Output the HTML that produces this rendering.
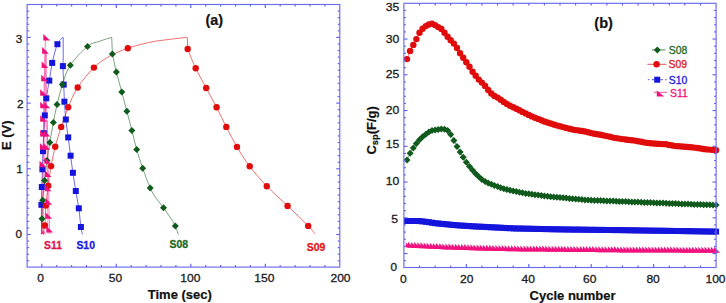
<!DOCTYPE html>
<html><head><meta charset="utf-8"><title>Figure</title>
<style>
html,body{margin:0;padding:0;background:#fff;}
body{width:726px;height:303px;overflow:hidden;}
svg{display:block;}
svg text{font-family:"Liberation Sans",sans-serif;}
</style></head><body>
<svg width="726" height="303" viewBox="0 0 726 303">
<rect width="726" height="303" fill="#ffffff"/>
<path d="M41.5,234.0 C41.5,229.1 41.4,212.6 41.4,204.8 C41.4,197.0 41.6,192.9 41.8,187.0 C42.0,181.1 42.2,175.3 42.4,169.3 C42.6,163.3 42.8,157.2 43.0,151.2 C43.2,145.2 43.5,139.2 43.8,133.2 C44.1,127.2 44.4,121.2 44.8,115.4 C45.2,109.6 45.5,104.1 46.3,98.3 C47.0,92.5 48.3,86.5 49.3,80.6 C50.3,74.7 50.9,69.0 52.2,62.9 C53.6,56.8 55.6,48.5 57.4,44.2 C59.2,39.9 62.1,38.4 63.0,37.3" fill="none" stroke="#1414dc" stroke-width="0.9" stroke-opacity="0.7" stroke-linejoin="round"/>
<polyline points="63.2,37.3 63.2,60.0" fill="none" stroke="#1414dc" stroke-width="0.9" stroke-opacity="0.7" stroke-linejoin="round"/>
<path d="M63.2,60.0 C63.2,61.0 62.8,62.0 62.9,66.1 C63.0,70.2 63.5,78.7 63.7,84.6 C64.0,90.5 64.1,95.9 64.4,101.7 C64.8,107.5 65.2,113.5 65.8,119.5 C66.4,125.5 67.4,131.4 68.2,137.4 C69.0,143.4 69.8,149.8 70.6,155.7 C71.4,161.6 72.0,166.9 72.9,172.8 C73.8,178.7 74.8,185.1 75.8,191.0 C76.8,196.9 77.9,202.3 78.8,208.3 C79.7,214.3 80.3,222.6 80.9,227.0 C81.5,231.4 82.2,233.2 82.4,234.5" fill="none" stroke="#1414dc" stroke-width="0.9" stroke-opacity="0.7" stroke-linejoin="round"/>
<path d="M41.8,234.0 C41.8,231.4 41.9,224.3 42.0,218.7 C42.1,213.1 42.3,206.6 42.7,200.2 C43.1,193.8 43.9,187.1 44.6,180.5 C45.3,173.9 46.1,166.8 47.0,160.5 C47.9,154.2 48.7,148.9 49.8,142.6 C50.9,136.2 52.2,128.7 53.4,122.4 C54.6,116.1 55.5,110.9 57.0,104.6 C58.5,98.3 60.2,91.2 62.4,84.6 C64.6,78.0 66.1,71.6 70.3,65.2 C74.5,58.8 82.7,50.4 87.5,46.4 C92.3,42.4 95.2,42.9 99.2,41.4 C103.2,39.9 109.5,38.0 111.5,37.3" fill="none" stroke="#0f5a1c" stroke-width="0.9" stroke-opacity="0.62" stroke-linejoin="round"/>
<polyline points="111.7,37.3 112.4,54.0" fill="none" stroke="#0f5a1c" stroke-width="0.9" stroke-opacity="0.62" stroke-linejoin="round"/>
<path d="M112.4,54.0 C113.1,57.0 114.8,65.7 116.4,72.0 C118.0,78.3 120.0,85.4 121.8,91.9 C123.5,98.5 125.2,104.9 126.9,111.3 C128.6,117.7 130.3,124.1 131.9,130.4 C133.5,136.8 134.9,143.1 136.7,149.4 C138.5,155.7 140.4,161.8 142.7,168.2 C144.9,174.6 148.0,182.9 150.2,187.9 C152.4,192.9 153.8,194.7 156.0,198.0 C158.2,201.3 161.2,204.5 163.5,207.7 C165.8,210.9 168.0,214.0 170.0,217.0 C172.0,220.0 173.9,223.0 175.3,225.9 C176.7,228.8 177.8,233.1 178.3,234.5" fill="none" stroke="#0f5a1c" stroke-width="0.9" stroke-opacity="0.62" stroke-linejoin="round"/>
<path d="M42.5,234.0 C42.9,232.6 44.4,230.2 44.9,225.5 C45.4,220.8 45.2,212.2 45.8,205.6 C46.3,199.0 47.3,192.3 48.2,185.7 C49.1,179.1 49.9,172.6 51.1,166.1 C52.3,159.6 53.5,153.3 55.2,146.8 C56.9,140.3 59.0,133.5 61.2,126.9 C63.4,120.3 65.5,113.8 68.2,107.2 C71.0,100.6 73.4,94.1 77.7,87.5 C82.0,80.9 88.6,72.8 93.9,67.6 C99.2,62.4 103.8,59.5 109.5,56.3 C115.2,53.1 121.1,50.5 127.8,48.2 C134.5,45.9 142.8,43.8 149.7,42.3 C156.6,40.8 163.3,40.2 169.5,39.4 C175.7,38.6 184.1,37.7 187.0,37.4" fill="none" stroke="#e00c0c" stroke-width="0.9" stroke-opacity="0.65" stroke-linejoin="round"/>
<polyline points="187.3,37.4 187.7,49.0" fill="none" stroke="#e00c0c" stroke-width="0.9" stroke-opacity="0.65" stroke-linejoin="round"/>
<path d="M187.7,49.0 C189.0,52.2 192.6,61.8 195.7,68.3 C198.8,74.8 202.7,81.5 206.2,88.0 C209.7,94.5 213.2,100.8 216.6,107.3 C219.9,113.8 222.9,120.3 226.3,126.9 C229.7,133.5 233.1,140.3 237.0,146.9 C240.9,153.5 244.7,159.8 249.7,166.3 C254.7,172.9 260.5,179.6 266.8,186.2 C273.1,192.8 280.7,199.3 287.6,205.9 C294.5,212.5 303.6,221.2 308.2,225.9 C312.8,230.6 314.0,232.7 315.1,234.1" fill="none" stroke="#e00c0c" stroke-width="0.9" stroke-opacity="0.65" stroke-linejoin="round"/>
<polyline points="42.0,234.0 43.0,170.0 43.9,100.0 45.2,48.0 45.4,37.3" fill="none" stroke="#f0107e" stroke-width="0.9" stroke-opacity="0.6" stroke-linejoin="round"/>
<polyline points="43.2,234.0 44.6,130.0 45.8,60.0 46.0,50.0" fill="none" stroke="#f0107e" stroke-width="0.9" stroke-opacity="0.45" stroke-linejoin="round"/>
<polyline points="46.2,52.0 46.6,110.0 47.3,170.0 48.0,234.0" fill="none" stroke="#f0107e" stroke-width="0.9" stroke-opacity="0.5" stroke-linejoin="round"/>
<polyline points="47.2,120.0 48.2,170.0 49.2,215.0 49.8,234.0" fill="none" stroke="#f0107e" stroke-width="0.9" stroke-opacity="0.6" stroke-linejoin="round"/>
<polyline points="41.8,234.0 42.6,231.5 43.4,234.5 44.4,231.5 45.2,234.5" fill="none" stroke="#f0107e" stroke-width="0.8" stroke-opacity="0.8" stroke-linejoin="round"/>
<rect x="43.6" y="52" width="2.6" height="75" fill="#f0107e" opacity="0.15"/>
<rect x="38.4" y="201.8" width="6.0" height="6.0" fill="#1414dc"/>
<rect x="38.8" y="184.0" width="6.0" height="6.0" fill="#1414dc"/>
<rect x="39.4" y="166.3" width="6.0" height="6.0" fill="#1414dc"/>
<rect x="40.0" y="148.2" width="6.0" height="6.0" fill="#1414dc"/>
<rect x="40.8" y="130.2" width="6.0" height="6.0" fill="#1414dc"/>
<rect x="41.8" y="112.4" width="6.0" height="6.0" fill="#1414dc"/>
<rect x="43.3" y="95.3" width="6.0" height="6.0" fill="#1414dc"/>
<rect x="46.3" y="77.6" width="6.0" height="6.0" fill="#1414dc"/>
<rect x="49.2" y="59.9" width="6.0" height="6.0" fill="#1414dc"/>
<rect x="54.4" y="41.2" width="6.0" height="6.0" fill="#1414dc"/>
<rect x="59.9" y="63.1" width="6.0" height="6.0" fill="#1414dc"/>
<rect x="60.7" y="81.6" width="6.0" height="6.0" fill="#1414dc"/>
<rect x="61.4" y="98.7" width="6.0" height="6.0" fill="#1414dc"/>
<rect x="62.8" y="116.5" width="6.0" height="6.0" fill="#1414dc"/>
<rect x="65.2" y="134.4" width="6.0" height="6.0" fill="#1414dc"/>
<rect x="67.6" y="152.7" width="6.0" height="6.0" fill="#1414dc"/>
<rect x="69.9" y="169.8" width="6.0" height="6.0" fill="#1414dc"/>
<rect x="72.8" y="188.0" width="6.0" height="6.0" fill="#1414dc"/>
<rect x="75.8" y="205.3" width="6.0" height="6.0" fill="#1414dc"/>
<rect x="77.9" y="224.0" width="6.0" height="6.0" fill="#1414dc"/>
<polygon points="38.5,218.7 42.0,215.2 45.5,218.7 42.0,222.2" fill="#0f5a1c"/>
<polygon points="39.2,200.2 42.7,196.7 46.2,200.2 42.7,203.7" fill="#0f5a1c"/>
<polygon points="41.1,180.5 44.6,177.0 48.1,180.5 44.6,184.0" fill="#0f5a1c"/>
<polygon points="43.5,160.5 47.0,157.0 50.5,160.5 47.0,164.0" fill="#0f5a1c"/>
<polygon points="46.3,142.6 49.8,139.1 53.3,142.6 49.8,146.1" fill="#0f5a1c"/>
<polygon points="49.9,122.4 53.4,118.9 56.9,122.4 53.4,125.9" fill="#0f5a1c"/>
<polygon points="53.5,104.6 57.0,101.1 60.5,104.6 57.0,108.1" fill="#0f5a1c"/>
<polygon points="58.9,84.6 62.4,81.1 65.9,84.6 62.4,88.1" fill="#0f5a1c"/>
<polygon points="66.8,65.2 70.3,61.7 73.8,65.2 70.3,68.7" fill="#0f5a1c"/>
<polygon points="84.0,46.4 87.5,42.9 91.0,46.4 87.5,49.9" fill="#0f5a1c"/>
<polygon points="108.9,54.0 112.4,50.5 115.9,54.0 112.4,57.5" fill="#0f5a1c"/>
<polygon points="112.9,72.0 116.4,68.5 119.9,72.0 116.4,75.5" fill="#0f5a1c"/>
<polygon points="118.3,91.9 121.8,88.4 125.3,91.9 121.8,95.4" fill="#0f5a1c"/>
<polygon points="123.4,111.3 126.9,107.8 130.4,111.3 126.9,114.8" fill="#0f5a1c"/>
<polygon points="128.4,130.4 131.9,126.9 135.4,130.4 131.9,133.9" fill="#0f5a1c"/>
<polygon points="133.2,149.4 136.7,145.9 140.2,149.4 136.7,152.9" fill="#0f5a1c"/>
<polygon points="139.2,168.2 142.7,164.7 146.2,168.2 142.7,171.7" fill="#0f5a1c"/>
<polygon points="146.7,187.9 150.2,184.4 153.7,187.9 150.2,191.4" fill="#0f5a1c"/>
<polygon points="160.0,207.7 163.5,204.2 167.0,207.7 163.5,211.2" fill="#0f5a1c"/>
<polygon points="171.8,225.9 175.3,222.4 178.8,225.9 175.3,229.4" fill="#0f5a1c"/>
<circle cx="44.9" cy="225.5" r="3.2" fill="#e00c0c"/>
<circle cx="45.8" cy="205.6" r="3.2" fill="#e00c0c"/>
<circle cx="48.2" cy="185.7" r="3.2" fill="#e00c0c"/>
<circle cx="51.1" cy="166.1" r="3.2" fill="#e00c0c"/>
<circle cx="55.2" cy="146.8" r="3.2" fill="#e00c0c"/>
<circle cx="61.2" cy="126.9" r="3.2" fill="#e00c0c"/>
<circle cx="68.2" cy="107.2" r="3.2" fill="#e00c0c"/>
<circle cx="77.7" cy="87.5" r="3.2" fill="#e00c0c"/>
<circle cx="93.9" cy="67.6" r="3.2" fill="#e00c0c"/>
<circle cx="127.8" cy="48.2" r="3.2" fill="#e00c0c"/>
<circle cx="187.7" cy="49.0" r="3.2" fill="#e00c0c"/>
<circle cx="195.7" cy="68.3" r="3.2" fill="#e00c0c"/>
<circle cx="206.2" cy="88.0" r="3.2" fill="#e00c0c"/>
<circle cx="216.6" cy="107.3" r="3.2" fill="#e00c0c"/>
<circle cx="226.3" cy="126.9" r="3.2" fill="#e00c0c"/>
<circle cx="237.0" cy="146.9" r="3.2" fill="#e00c0c"/>
<circle cx="249.7" cy="166.3" r="3.2" fill="#e00c0c"/>
<circle cx="266.8" cy="186.2" r="3.2" fill="#e00c0c"/>
<circle cx="287.6" cy="205.9" r="3.2" fill="#e00c0c"/>
<circle cx="308.2" cy="225.9" r="3.2" fill="#e00c0c"/>
<polygon points="43.3,34.0 43.3,40.6 50.1,40.6" fill="#f0107e"/>
<polygon points="42.1,47.1 42.1,53.7 48.9,53.7" fill="#f0107e"/>
<polygon points="41.6,61.4 41.6,68.0 48.4,68.0" fill="#f0107e"/>
<polygon points="41.2,74.7 41.2,81.3 48.0,81.3" fill="#f0107e"/>
<polygon points="40.2,89.2 40.2,95.8 47.0,95.8" fill="#f0107e"/>
<polygon points="40.2,101.7 40.2,108.3 47.0,108.3" fill="#f0107e"/>
<polygon points="40.2,115.2 40.2,121.8 47.0,121.8" fill="#f0107e"/>
<polygon points="40.2,129.9 40.2,136.5 47.0,136.5" fill="#f0107e"/>
<polygon points="39.9,143.1 39.9,149.7 46.7,149.7" fill="#f0107e"/>
<polygon points="39.5,160.7 39.5,167.3 46.3,167.3" fill="#f0107e"/>
<polygon points="43.5,101.7 43.5,108.3 50.3,108.3" fill="#f0107e"/>
<polygon points="43.5,129.9 43.5,136.5 50.3,136.5" fill="#f0107e"/>
<polygon points="43.5,143.1 43.5,149.7 50.3,149.7" fill="#f0107e"/>
<polygon points="44.5,157.2 44.5,163.8 51.3,163.8" fill="#f0107e"/>
<polygon points="44.8,170.3 44.8,176.9 51.6,176.9" fill="#f0107e"/>
<polygon points="44.8,184.7 44.8,191.3 51.6,191.3" fill="#f0107e"/>
<polygon points="45.4,198.1 45.4,204.7 52.2,204.7" fill="#f0107e"/>
<polygon points="45.4,212.2 45.4,218.8 52.2,218.8" fill="#f0107e"/>
<polygon points="46.3,226.0 46.3,232.6 53.1,232.6" fill="#f0107e"/>
<text x="53.0" y="248.5" font-size="10.4" font-weight="bold" fill="#e0144e" stroke="#e0144e" stroke-width="0.3" text-anchor="middle" >S11</text>
<text x="85.7" y="248.5" font-size="10.4" font-weight="bold" fill="#1a1ae0" stroke="#1a1ae0" stroke-width="0.3" text-anchor="middle" >S10</text>
<text x="178.8" y="247.8" font-size="10.4" font-weight="bold" fill="#1d6a22" stroke="#1d6a22" stroke-width="0.3" text-anchor="middle" >S08</text>
<text x="316.0" y="250.8" font-size="10.4" font-weight="bold" fill="#e01818" stroke="#e01818" stroke-width="0.3" text-anchor="middle" >S09</text>
<rect x="27.1" y="4.5" width="312.7" height="262.6" fill="none" stroke="#6a6af0" stroke-width="1.15"/>
<line x1="41.80" y1="4.50" x2="41.80" y2="7.90" stroke="#6060ee" stroke-width="1.15" />
<line x1="41.80" y1="267.10" x2="41.80" y2="263.70" stroke="#6060ee" stroke-width="1.15" />
<line x1="56.70" y1="4.50" x2="56.70" y2="6.60" stroke="#6060ee" stroke-width="1.15" />
<line x1="56.70" y1="267.10" x2="56.70" y2="265.00" stroke="#6060ee" stroke-width="1.15" />
<line x1="71.60" y1="4.50" x2="71.60" y2="6.60" stroke="#6060ee" stroke-width="1.15" />
<line x1="71.60" y1="267.10" x2="71.60" y2="265.00" stroke="#6060ee" stroke-width="1.15" />
<line x1="86.50" y1="4.50" x2="86.50" y2="6.60" stroke="#6060ee" stroke-width="1.15" />
<line x1="86.50" y1="267.10" x2="86.50" y2="265.00" stroke="#6060ee" stroke-width="1.15" />
<line x1="101.40" y1="4.50" x2="101.40" y2="6.60" stroke="#6060ee" stroke-width="1.15" />
<line x1="101.40" y1="267.10" x2="101.40" y2="265.00" stroke="#6060ee" stroke-width="1.15" />
<line x1="116.30" y1="4.50" x2="116.30" y2="7.90" stroke="#6060ee" stroke-width="1.15" />
<line x1="116.30" y1="267.10" x2="116.30" y2="263.70" stroke="#6060ee" stroke-width="1.15" />
<line x1="131.20" y1="4.50" x2="131.20" y2="6.60" stroke="#6060ee" stroke-width="1.15" />
<line x1="131.20" y1="267.10" x2="131.20" y2="265.00" stroke="#6060ee" stroke-width="1.15" />
<line x1="146.10" y1="4.50" x2="146.10" y2="6.60" stroke="#6060ee" stroke-width="1.15" />
<line x1="146.10" y1="267.10" x2="146.10" y2="265.00" stroke="#6060ee" stroke-width="1.15" />
<line x1="161.00" y1="4.50" x2="161.00" y2="6.60" stroke="#6060ee" stroke-width="1.15" />
<line x1="161.00" y1="267.10" x2="161.00" y2="265.00" stroke="#6060ee" stroke-width="1.15" />
<line x1="175.90" y1="4.50" x2="175.90" y2="6.60" stroke="#6060ee" stroke-width="1.15" />
<line x1="175.90" y1="267.10" x2="175.90" y2="265.00" stroke="#6060ee" stroke-width="1.15" />
<line x1="190.80" y1="4.50" x2="190.80" y2="7.90" stroke="#6060ee" stroke-width="1.15" />
<line x1="190.80" y1="267.10" x2="190.80" y2="263.70" stroke="#6060ee" stroke-width="1.15" />
<line x1="205.70" y1="4.50" x2="205.70" y2="6.60" stroke="#6060ee" stroke-width="1.15" />
<line x1="205.70" y1="267.10" x2="205.70" y2="265.00" stroke="#6060ee" stroke-width="1.15" />
<line x1="220.60" y1="4.50" x2="220.60" y2="6.60" stroke="#6060ee" stroke-width="1.15" />
<line x1="220.60" y1="267.10" x2="220.60" y2="265.00" stroke="#6060ee" stroke-width="1.15" />
<line x1="235.50" y1="4.50" x2="235.50" y2="6.60" stroke="#6060ee" stroke-width="1.15" />
<line x1="235.50" y1="267.10" x2="235.50" y2="265.00" stroke="#6060ee" stroke-width="1.15" />
<line x1="250.40" y1="4.50" x2="250.40" y2="6.60" stroke="#6060ee" stroke-width="1.15" />
<line x1="250.40" y1="267.10" x2="250.40" y2="265.00" stroke="#6060ee" stroke-width="1.15" />
<line x1="265.30" y1="4.50" x2="265.30" y2="7.90" stroke="#6060ee" stroke-width="1.15" />
<line x1="265.30" y1="267.10" x2="265.30" y2="263.70" stroke="#6060ee" stroke-width="1.15" />
<line x1="280.20" y1="4.50" x2="280.20" y2="6.60" stroke="#6060ee" stroke-width="1.15" />
<line x1="280.20" y1="267.10" x2="280.20" y2="265.00" stroke="#6060ee" stroke-width="1.15" />
<line x1="295.10" y1="4.50" x2="295.10" y2="6.60" stroke="#6060ee" stroke-width="1.15" />
<line x1="295.10" y1="267.10" x2="295.10" y2="265.00" stroke="#6060ee" stroke-width="1.15" />
<line x1="310.00" y1="4.50" x2="310.00" y2="6.60" stroke="#6060ee" stroke-width="1.15" />
<line x1="310.00" y1="267.10" x2="310.00" y2="265.00" stroke="#6060ee" stroke-width="1.15" />
<line x1="324.90" y1="4.50" x2="324.90" y2="6.60" stroke="#6060ee" stroke-width="1.15" />
<line x1="324.90" y1="267.10" x2="324.90" y2="265.00" stroke="#6060ee" stroke-width="1.15" />
<line x1="27.10" y1="260.78" x2="29.20" y2="260.78" stroke="#6060ee" stroke-width="1.15" />
<line x1="339.80" y1="260.78" x2="337.70" y2="260.78" stroke="#6060ee" stroke-width="1.15" />
<line x1="27.10" y1="254.21" x2="29.20" y2="254.21" stroke="#6060ee" stroke-width="1.15" />
<line x1="339.80" y1="254.21" x2="337.70" y2="254.21" stroke="#6060ee" stroke-width="1.15" />
<line x1="27.10" y1="247.64" x2="29.20" y2="247.64" stroke="#6060ee" stroke-width="1.15" />
<line x1="339.80" y1="247.64" x2="337.70" y2="247.64" stroke="#6060ee" stroke-width="1.15" />
<line x1="27.10" y1="241.07" x2="29.20" y2="241.07" stroke="#6060ee" stroke-width="1.15" />
<line x1="339.80" y1="241.07" x2="337.70" y2="241.07" stroke="#6060ee" stroke-width="1.15" />
<line x1="27.10" y1="234.50" x2="30.70" y2="234.50" stroke="#6060ee" stroke-width="1.15" />
<line x1="339.80" y1="234.50" x2="336.20" y2="234.50" stroke="#6060ee" stroke-width="1.15" />
<line x1="27.10" y1="227.93" x2="29.20" y2="227.93" stroke="#6060ee" stroke-width="1.15" />
<line x1="339.80" y1="227.93" x2="337.70" y2="227.93" stroke="#6060ee" stroke-width="1.15" />
<line x1="27.10" y1="221.36" x2="29.20" y2="221.36" stroke="#6060ee" stroke-width="1.15" />
<line x1="339.80" y1="221.36" x2="337.70" y2="221.36" stroke="#6060ee" stroke-width="1.15" />
<line x1="27.10" y1="214.79" x2="29.20" y2="214.79" stroke="#6060ee" stroke-width="1.15" />
<line x1="339.80" y1="214.79" x2="337.70" y2="214.79" stroke="#6060ee" stroke-width="1.15" />
<line x1="27.10" y1="208.22" x2="29.20" y2="208.22" stroke="#6060ee" stroke-width="1.15" />
<line x1="339.80" y1="208.22" x2="337.70" y2="208.22" stroke="#6060ee" stroke-width="1.15" />
<line x1="27.10" y1="201.65" x2="29.20" y2="201.65" stroke="#6060ee" stroke-width="1.15" />
<line x1="339.80" y1="201.65" x2="337.70" y2="201.65" stroke="#6060ee" stroke-width="1.15" />
<line x1="27.10" y1="195.08" x2="29.20" y2="195.08" stroke="#6060ee" stroke-width="1.15" />
<line x1="339.80" y1="195.08" x2="337.70" y2="195.08" stroke="#6060ee" stroke-width="1.15" />
<line x1="27.10" y1="188.51" x2="29.20" y2="188.51" stroke="#6060ee" stroke-width="1.15" />
<line x1="339.80" y1="188.51" x2="337.70" y2="188.51" stroke="#6060ee" stroke-width="1.15" />
<line x1="27.10" y1="181.94" x2="29.20" y2="181.94" stroke="#6060ee" stroke-width="1.15" />
<line x1="339.80" y1="181.94" x2="337.70" y2="181.94" stroke="#6060ee" stroke-width="1.15" />
<line x1="27.10" y1="175.37" x2="29.20" y2="175.37" stroke="#6060ee" stroke-width="1.15" />
<line x1="339.80" y1="175.37" x2="337.70" y2="175.37" stroke="#6060ee" stroke-width="1.15" />
<line x1="27.10" y1="168.80" x2="30.70" y2="168.80" stroke="#6060ee" stroke-width="1.15" />
<line x1="339.80" y1="168.80" x2="336.20" y2="168.80" stroke="#6060ee" stroke-width="1.15" />
<line x1="27.10" y1="162.23" x2="29.20" y2="162.23" stroke="#6060ee" stroke-width="1.15" />
<line x1="339.80" y1="162.23" x2="337.70" y2="162.23" stroke="#6060ee" stroke-width="1.15" />
<line x1="27.10" y1="155.66" x2="29.20" y2="155.66" stroke="#6060ee" stroke-width="1.15" />
<line x1="339.80" y1="155.66" x2="337.70" y2="155.66" stroke="#6060ee" stroke-width="1.15" />
<line x1="27.10" y1="149.09" x2="29.20" y2="149.09" stroke="#6060ee" stroke-width="1.15" />
<line x1="339.80" y1="149.09" x2="337.70" y2="149.09" stroke="#6060ee" stroke-width="1.15" />
<line x1="27.10" y1="142.52" x2="29.20" y2="142.52" stroke="#6060ee" stroke-width="1.15" />
<line x1="339.80" y1="142.52" x2="337.70" y2="142.52" stroke="#6060ee" stroke-width="1.15" />
<line x1="27.10" y1="135.95" x2="29.20" y2="135.95" stroke="#6060ee" stroke-width="1.15" />
<line x1="339.80" y1="135.95" x2="337.70" y2="135.95" stroke="#6060ee" stroke-width="1.15" />
<line x1="27.10" y1="129.38" x2="29.20" y2="129.38" stroke="#6060ee" stroke-width="1.15" />
<line x1="339.80" y1="129.38" x2="337.70" y2="129.38" stroke="#6060ee" stroke-width="1.15" />
<line x1="27.10" y1="122.81" x2="29.20" y2="122.81" stroke="#6060ee" stroke-width="1.15" />
<line x1="339.80" y1="122.81" x2="337.70" y2="122.81" stroke="#6060ee" stroke-width="1.15" />
<line x1="27.10" y1="116.24" x2="29.20" y2="116.24" stroke="#6060ee" stroke-width="1.15" />
<line x1="339.80" y1="116.24" x2="337.70" y2="116.24" stroke="#6060ee" stroke-width="1.15" />
<line x1="27.10" y1="109.67" x2="29.20" y2="109.67" stroke="#6060ee" stroke-width="1.15" />
<line x1="339.80" y1="109.67" x2="337.70" y2="109.67" stroke="#6060ee" stroke-width="1.15" />
<line x1="27.10" y1="103.10" x2="30.70" y2="103.10" stroke="#6060ee" stroke-width="1.15" />
<line x1="339.80" y1="103.10" x2="336.20" y2="103.10" stroke="#6060ee" stroke-width="1.15" />
<line x1="27.10" y1="96.53" x2="29.20" y2="96.53" stroke="#6060ee" stroke-width="1.15" />
<line x1="339.80" y1="96.53" x2="337.70" y2="96.53" stroke="#6060ee" stroke-width="1.15" />
<line x1="27.10" y1="89.96" x2="29.20" y2="89.96" stroke="#6060ee" stroke-width="1.15" />
<line x1="339.80" y1="89.96" x2="337.70" y2="89.96" stroke="#6060ee" stroke-width="1.15" />
<line x1="27.10" y1="83.39" x2="29.20" y2="83.39" stroke="#6060ee" stroke-width="1.15" />
<line x1="339.80" y1="83.39" x2="337.70" y2="83.39" stroke="#6060ee" stroke-width="1.15" />
<line x1="27.10" y1="76.82" x2="29.20" y2="76.82" stroke="#6060ee" stroke-width="1.15" />
<line x1="339.80" y1="76.82" x2="337.70" y2="76.82" stroke="#6060ee" stroke-width="1.15" />
<line x1="27.10" y1="70.25" x2="29.20" y2="70.25" stroke="#6060ee" stroke-width="1.15" />
<line x1="339.80" y1="70.25" x2="337.70" y2="70.25" stroke="#6060ee" stroke-width="1.15" />
<line x1="27.10" y1="63.68" x2="29.20" y2="63.68" stroke="#6060ee" stroke-width="1.15" />
<line x1="339.80" y1="63.68" x2="337.70" y2="63.68" stroke="#6060ee" stroke-width="1.15" />
<line x1="27.10" y1="57.11" x2="29.20" y2="57.11" stroke="#6060ee" stroke-width="1.15" />
<line x1="339.80" y1="57.11" x2="337.70" y2="57.11" stroke="#6060ee" stroke-width="1.15" />
<line x1="27.10" y1="50.54" x2="29.20" y2="50.54" stroke="#6060ee" stroke-width="1.15" />
<line x1="339.80" y1="50.54" x2="337.70" y2="50.54" stroke="#6060ee" stroke-width="1.15" />
<line x1="27.10" y1="43.97" x2="29.20" y2="43.97" stroke="#6060ee" stroke-width="1.15" />
<line x1="339.80" y1="43.97" x2="337.70" y2="43.97" stroke="#6060ee" stroke-width="1.15" />
<line x1="27.10" y1="37.40" x2="30.70" y2="37.40" stroke="#6060ee" stroke-width="1.15" />
<line x1="339.80" y1="37.40" x2="336.20" y2="37.40" stroke="#6060ee" stroke-width="1.15" />
<line x1="27.10" y1="30.83" x2="29.20" y2="30.83" stroke="#6060ee" stroke-width="1.15" />
<line x1="339.80" y1="30.83" x2="337.70" y2="30.83" stroke="#6060ee" stroke-width="1.15" />
<line x1="27.10" y1="24.26" x2="29.20" y2="24.26" stroke="#6060ee" stroke-width="1.15" />
<line x1="339.80" y1="24.26" x2="337.70" y2="24.26" stroke="#6060ee" stroke-width="1.15" />
<line x1="27.10" y1="17.69" x2="29.20" y2="17.69" stroke="#6060ee" stroke-width="1.15" />
<line x1="339.80" y1="17.69" x2="337.70" y2="17.69" stroke="#6060ee" stroke-width="1.15" />
<line x1="27.10" y1="11.12" x2="29.20" y2="11.12" stroke="#6060ee" stroke-width="1.15" />
<line x1="339.80" y1="11.12" x2="337.70" y2="11.12" stroke="#6060ee" stroke-width="1.15" />
<text transform="translate(40.7,282.3) scale(1.03,1)" font-size="11.7" font-weight="normal" fill="#1a1a1a" stroke="#1a1a1a" stroke-width="0.3" text-anchor="middle" >0</text>
<text transform="translate(115.5,282.3) scale(1.03,1)" font-size="11.7" font-weight="normal" fill="#1a1a1a" stroke="#1a1a1a" stroke-width="0.3" text-anchor="middle" >50</text>
<text transform="translate(190.4,282.3) scale(1.03,1)" font-size="11.7" font-weight="normal" fill="#1a1a1a" stroke="#1a1a1a" stroke-width="0.3" text-anchor="middle" >100</text>
<text transform="translate(264.3,282.3) scale(1.03,1)" font-size="11.7" font-weight="normal" fill="#1a1a1a" stroke="#1a1a1a" stroke-width="0.3" text-anchor="middle" >150</text>
<text transform="translate(340.5,282.3) scale(1.03,1)" font-size="11.7" font-weight="normal" fill="#1a1a1a" stroke="#1a1a1a" stroke-width="0.3" text-anchor="middle" >200</text>
<text x="18.8" y="238.3" font-size="11.7" font-weight="normal" fill="#1a1a1a" stroke="#1a1a1a" stroke-width="0.3" text-anchor="middle" >0</text>
<text x="19.4" y="172.8" font-size="11.7" font-weight="normal" fill="#1a1a1a" stroke="#1a1a1a" stroke-width="0.3" text-anchor="middle" >1</text>
<text x="20.2" y="107.8" font-size="11.7" font-weight="normal" fill="#1a1a1a" stroke="#1a1a1a" stroke-width="0.3" text-anchor="middle" >2</text>
<text x="19.1" y="42.6" font-size="11.7" font-weight="normal" fill="#1a1a1a" stroke="#1a1a1a" stroke-width="0.3" text-anchor="middle" >3</text>
<text x="179.8" y="299.2" font-size="13" font-weight="bold" fill="#111" stroke="#111" stroke-width="0.2" text-anchor="middle" >Time (sec)</text>
<text x="214.2" y="24.9" font-size="14" font-weight="bold" fill="#111" stroke="#111" stroke-width="0.2" text-anchor="middle" textLength="17.6" lengthAdjust="spacingAndGlyphs">(a)</text>
<text transform="translate(10.9,135.2) rotate(-90)" font-size="13" font-weight="bold" fill="#111" stroke="#111" stroke-width="0.2" text-anchor="middle">E (V)</text>
<polyline points="407.0,159.9 410.1,153.3 413.3,147.9 416.4,143.4 419.5,139.8 422.6,136.8 425.8,134.2 428.9,132.1 432.0,130.6 435.1,129.9 438.2,129.5 441.4,128.9 444.5,129.3 447.6,130.6 450.7,134.6 453.9,140.4 457.0,146.4 460.1,151.9 463.2,157.2 466.3,162.3 469.5,166.6 472.6,170.3 475.7,173.8 478.8,176.8 481.9,179.4 485.1,181.5 488.2,183.1 491.3,184.3 494.4,185.5" fill="none" stroke="#0f5a1c" stroke-width="0.9" stroke-opacity="0.6" stroke-linejoin="round"/>
<polyline points="407.0,59.1 410.1,51.0 413.3,44.9 416.4,39.1 419.5,32.8 422.6,28.7 425.8,26.1 428.9,24.5 432.0,23.6 435.1,25.1 438.2,27.1 441.4,28.9 444.5,32.7 447.6,36.8 450.7,40.2 453.9,43.6 457.0,48.0 460.1,53.3 463.2,57.8 466.3,62.2 469.5,66.8 472.6,71.7 475.7,75.7 478.8,79.6 481.9,82.6 485.1,85.9 488.2,90.0 491.3,93.5 494.4,95.9" fill="none" stroke="#e00c0c" stroke-width="0.9" stroke-opacity="0.6" stroke-linejoin="round"/>
<rect x="404.0" y="218.0" width="6.0" height="6.0" fill="#1414dc"/>
<rect x="407.1" y="218.0" width="6.0" height="6.0" fill="#1414dc"/>
<rect x="410.3" y="218.0" width="6.0" height="6.0" fill="#1414dc"/>
<rect x="413.4" y="218.0" width="6.0" height="6.0" fill="#1414dc"/>
<rect x="416.5" y="218.1" width="6.0" height="6.0" fill="#1414dc"/>
<rect x="419.6" y="218.4" width="6.0" height="6.0" fill="#1414dc"/>
<rect x="422.8" y="218.8" width="6.0" height="6.0" fill="#1414dc"/>
<rect x="425.9" y="219.2" width="6.0" height="6.0" fill="#1414dc"/>
<rect x="429.0" y="219.7" width="6.0" height="6.0" fill="#1414dc"/>
<rect x="432.1" y="220.2" width="6.0" height="6.0" fill="#1414dc"/>
<rect x="435.2" y="220.5" width="6.0" height="6.0" fill="#1414dc"/>
<rect x="438.4" y="220.8" width="6.0" height="6.0" fill="#1414dc"/>
<rect x="441.5" y="221.1" width="6.0" height="6.0" fill="#1414dc"/>
<rect x="444.6" y="221.4" width="6.0" height="6.0" fill="#1414dc"/>
<rect x="447.7" y="221.7" width="6.0" height="6.0" fill="#1414dc"/>
<rect x="450.9" y="222.0" width="6.0" height="6.0" fill="#1414dc"/>
<rect x="454.0" y="222.3" width="6.0" height="6.0" fill="#1414dc"/>
<rect x="457.1" y="222.5" width="6.0" height="6.0" fill="#1414dc"/>
<rect x="460.2" y="222.7" width="6.0" height="6.0" fill="#1414dc"/>
<rect x="463.3" y="222.9" width="6.0" height="6.0" fill="#1414dc"/>
<rect x="466.5" y="223.1" width="6.0" height="6.0" fill="#1414dc"/>
<rect x="469.6" y="223.3" width="6.0" height="6.0" fill="#1414dc"/>
<rect x="472.7" y="223.5" width="6.0" height="6.0" fill="#1414dc"/>
<rect x="475.8" y="223.6" width="6.0" height="6.0" fill="#1414dc"/>
<rect x="478.9" y="223.8" width="6.0" height="6.0" fill="#1414dc"/>
<rect x="482.1" y="223.9" width="6.0" height="6.0" fill="#1414dc"/>
<rect x="485.2" y="224.1" width="6.0" height="6.0" fill="#1414dc"/>
<rect x="488.3" y="224.3" width="6.0" height="6.0" fill="#1414dc"/>
<rect x="491.4" y="224.4" width="6.0" height="6.0" fill="#1414dc"/>
<rect x="494.6" y="224.6" width="6.0" height="6.0" fill="#1414dc"/>
<rect x="497.7" y="224.7" width="6.0" height="6.0" fill="#1414dc"/>
<rect x="500.8" y="224.9" width="6.0" height="6.0" fill="#1414dc"/>
<rect x="503.9" y="225.1" width="6.0" height="6.0" fill="#1414dc"/>
<rect x="507.0" y="225.2" width="6.0" height="6.0" fill="#1414dc"/>
<rect x="510.2" y="225.4" width="6.0" height="6.0" fill="#1414dc"/>
<rect x="513.3" y="225.5" width="6.0" height="6.0" fill="#1414dc"/>
<rect x="516.4" y="225.5" width="6.0" height="6.0" fill="#1414dc"/>
<rect x="519.5" y="225.6" width="6.0" height="6.0" fill="#1414dc"/>
<rect x="522.7" y="225.7" width="6.0" height="6.0" fill="#1414dc"/>
<rect x="525.8" y="225.7" width="6.0" height="6.0" fill="#1414dc"/>
<rect x="528.9" y="225.8" width="6.0" height="6.0" fill="#1414dc"/>
<rect x="532.0" y="225.9" width="6.0" height="6.0" fill="#1414dc"/>
<rect x="535.1" y="225.9" width="6.0" height="6.0" fill="#1414dc"/>
<rect x="538.3" y="226.0" width="6.0" height="6.0" fill="#1414dc"/>
<rect x="541.4" y="226.1" width="6.0" height="6.0" fill="#1414dc"/>
<rect x="544.5" y="226.1" width="6.0" height="6.0" fill="#1414dc"/>
<rect x="547.6" y="226.2" width="6.0" height="6.0" fill="#1414dc"/>
<rect x="550.8" y="226.3" width="6.0" height="6.0" fill="#1414dc"/>
<rect x="553.9" y="226.3" width="6.0" height="6.0" fill="#1414dc"/>
<rect x="557.0" y="226.4" width="6.0" height="6.0" fill="#1414dc"/>
<rect x="560.1" y="226.4" width="6.0" height="6.0" fill="#1414dc"/>
<rect x="563.2" y="226.5" width="6.0" height="6.0" fill="#1414dc"/>
<rect x="566.4" y="226.5" width="6.0" height="6.0" fill="#1414dc"/>
<rect x="569.5" y="226.6" width="6.0" height="6.0" fill="#1414dc"/>
<rect x="572.6" y="226.6" width="6.0" height="6.0" fill="#1414dc"/>
<rect x="575.7" y="226.6" width="6.0" height="6.0" fill="#1414dc"/>
<rect x="578.9" y="226.7" width="6.0" height="6.0" fill="#1414dc"/>
<rect x="582.0" y="226.7" width="6.0" height="6.0" fill="#1414dc"/>
<rect x="585.1" y="226.8" width="6.0" height="6.0" fill="#1414dc"/>
<rect x="588.2" y="226.8" width="6.0" height="6.0" fill="#1414dc"/>
<rect x="591.3" y="226.8" width="6.0" height="6.0" fill="#1414dc"/>
<rect x="594.5" y="226.9" width="6.0" height="6.0" fill="#1414dc"/>
<rect x="597.6" y="226.9" width="6.0" height="6.0" fill="#1414dc"/>
<rect x="600.7" y="226.9" width="6.0" height="6.0" fill="#1414dc"/>
<rect x="603.8" y="227.0" width="6.0" height="6.0" fill="#1414dc"/>
<rect x="607.0" y="227.0" width="6.0" height="6.0" fill="#1414dc"/>
<rect x="610.1" y="227.1" width="6.0" height="6.0" fill="#1414dc"/>
<rect x="613.2" y="227.1" width="6.0" height="6.0" fill="#1414dc"/>
<rect x="616.3" y="227.1" width="6.0" height="6.0" fill="#1414dc"/>
<rect x="619.4" y="227.2" width="6.0" height="6.0" fill="#1414dc"/>
<rect x="622.6" y="227.2" width="6.0" height="6.0" fill="#1414dc"/>
<rect x="625.7" y="227.3" width="6.0" height="6.0" fill="#1414dc"/>
<rect x="628.8" y="227.3" width="6.0" height="6.0" fill="#1414dc"/>
<rect x="631.9" y="227.4" width="6.0" height="6.0" fill="#1414dc"/>
<rect x="635.0" y="227.4" width="6.0" height="6.0" fill="#1414dc"/>
<rect x="638.2" y="227.5" width="6.0" height="6.0" fill="#1414dc"/>
<rect x="641.3" y="227.5" width="6.0" height="6.0" fill="#1414dc"/>
<rect x="644.4" y="227.6" width="6.0" height="6.0" fill="#1414dc"/>
<rect x="647.5" y="227.6" width="6.0" height="6.0" fill="#1414dc"/>
<rect x="650.7" y="227.7" width="6.0" height="6.0" fill="#1414dc"/>
<rect x="653.8" y="227.7" width="6.0" height="6.0" fill="#1414dc"/>
<rect x="656.9" y="227.7" width="6.0" height="6.0" fill="#1414dc"/>
<rect x="660.0" y="227.8" width="6.0" height="6.0" fill="#1414dc"/>
<rect x="663.1" y="227.8" width="6.0" height="6.0" fill="#1414dc"/>
<rect x="666.3" y="227.9" width="6.0" height="6.0" fill="#1414dc"/>
<rect x="669.4" y="227.9" width="6.0" height="6.0" fill="#1414dc"/>
<rect x="672.5" y="228.0" width="6.0" height="6.0" fill="#1414dc"/>
<rect x="675.6" y="228.0" width="6.0" height="6.0" fill="#1414dc"/>
<rect x="678.8" y="228.1" width="6.0" height="6.0" fill="#1414dc"/>
<rect x="681.9" y="228.1" width="6.0" height="6.0" fill="#1414dc"/>
<rect x="685.0" y="228.2" width="6.0" height="6.0" fill="#1414dc"/>
<rect x="688.1" y="228.2" width="6.0" height="6.0" fill="#1414dc"/>
<rect x="691.2" y="228.3" width="6.0" height="6.0" fill="#1414dc"/>
<rect x="694.4" y="228.3" width="6.0" height="6.0" fill="#1414dc"/>
<rect x="697.5" y="228.4" width="6.0" height="6.0" fill="#1414dc"/>
<rect x="700.6" y="228.4" width="6.0" height="6.0" fill="#1414dc"/>
<rect x="703.7" y="228.5" width="6.0" height="6.0" fill="#1414dc"/>
<rect x="706.9" y="228.5" width="6.0" height="6.0" fill="#1414dc"/>
<rect x="710.0" y="228.6" width="6.0" height="6.0" fill="#1414dc"/>
<rect x="713.1" y="228.6" width="6.0" height="6.0" fill="#1414dc"/>
<polygon points="403.5,159.9 407.0,156.4 410.5,159.9 407.0,163.4" fill="#0f5a1c"/>
<polygon points="406.6,153.3 410.1,149.8 413.6,153.3 410.1,156.8" fill="#0f5a1c"/>
<polygon points="409.8,147.9 413.3,144.4 416.8,147.9 413.3,151.4" fill="#0f5a1c"/>
<polygon points="412.9,143.4 416.4,139.9 419.9,143.4 416.4,146.9" fill="#0f5a1c"/>
<polygon points="416.0,139.8 419.5,136.3 423.0,139.8 419.5,143.3" fill="#0f5a1c"/>
<polygon points="419.1,136.8 422.6,133.3 426.1,136.8 422.6,140.3" fill="#0f5a1c"/>
<polygon points="422.3,134.2 425.8,130.7 429.3,134.2 425.8,137.7" fill="#0f5a1c"/>
<polygon points="425.4,132.1 428.9,128.6 432.4,132.1 428.9,135.6" fill="#0f5a1c"/>
<polygon points="428.5,130.6 432.0,127.1 435.5,130.6 432.0,134.1" fill="#0f5a1c"/>
<polygon points="431.6,129.9 435.1,126.4 438.6,129.9 435.1,133.4" fill="#0f5a1c"/>
<polygon points="434.7,129.5 438.2,126.0 441.7,129.5 438.2,133.0" fill="#0f5a1c"/>
<polygon points="437.9,128.9 441.4,125.4 444.9,128.9 441.4,132.4" fill="#0f5a1c"/>
<polygon points="441.0,129.3 444.5,125.8 448.0,129.3 444.5,132.8" fill="#0f5a1c"/>
<polygon points="444.1,130.6 447.6,127.1 451.1,130.6 447.6,134.1" fill="#0f5a1c"/>
<polygon points="447.2,134.6 450.7,131.1 454.2,134.6 450.7,138.1" fill="#0f5a1c"/>
<polygon points="450.4,140.4 453.9,136.9 457.4,140.4 453.9,143.9" fill="#0f5a1c"/>
<polygon points="453.5,146.4 457.0,142.9 460.5,146.4 457.0,149.9" fill="#0f5a1c"/>
<polygon points="456.6,151.9 460.1,148.4 463.6,151.9 460.1,155.4" fill="#0f5a1c"/>
<polygon points="459.7,157.2 463.2,153.7 466.7,157.2 463.2,160.7" fill="#0f5a1c"/>
<polygon points="462.8,162.3 466.3,158.8 469.8,162.3 466.3,165.8" fill="#0f5a1c"/>
<polygon points="466.0,166.6 469.5,163.1 473.0,166.6 469.5,170.1" fill="#0f5a1c"/>
<polygon points="469.1,170.3 472.6,166.8 476.1,170.3 472.6,173.8" fill="#0f5a1c"/>
<polygon points="472.2,173.8 475.7,170.3 479.2,173.8 475.7,177.3" fill="#0f5a1c"/>
<polygon points="475.3,176.8 478.8,173.3 482.3,176.8 478.8,180.3" fill="#0f5a1c"/>
<polygon points="478.4,179.4 481.9,175.9 485.4,179.4 481.9,182.9" fill="#0f5a1c"/>
<polygon points="481.6,181.5 485.1,178.0 488.6,181.5 485.1,185.0" fill="#0f5a1c"/>
<polygon points="484.7,183.1 488.2,179.6 491.7,183.1 488.2,186.6" fill="#0f5a1c"/>
<polygon points="487.8,184.3 491.3,180.8 494.8,184.3 491.3,187.8" fill="#0f5a1c"/>
<polygon points="490.9,185.5 494.4,182.0 497.9,185.5 494.4,189.0" fill="#0f5a1c"/>
<polygon points="494.1,186.6 497.6,183.1 501.1,186.6 497.6,190.1" fill="#0f5a1c"/>
<polygon points="497.2,187.7 500.7,184.2 504.2,187.7 500.7,191.2" fill="#0f5a1c"/>
<polygon points="500.3,188.8 503.8,185.3 507.3,188.8 503.8,192.3" fill="#0f5a1c"/>
<polygon points="503.4,189.5 506.9,186.0 510.4,189.5 506.9,193.0" fill="#0f5a1c"/>
<polygon points="506.5,190.2 510.0,186.7 513.5,190.2 510.0,193.7" fill="#0f5a1c"/>
<polygon points="509.7,190.9 513.2,187.4 516.7,190.9 513.2,194.4" fill="#0f5a1c"/>
<polygon points="512.8,191.6 516.3,188.1 519.8,191.6 516.3,195.1" fill="#0f5a1c"/>
<polygon points="515.9,192.2 519.4,188.7 522.9,192.2 519.4,195.7" fill="#0f5a1c"/>
<polygon points="519.0,192.8 522.5,189.3 526.0,192.8 522.5,196.3" fill="#0f5a1c"/>
<polygon points="522.2,193.4 525.7,189.9 529.2,193.4 525.7,196.9" fill="#0f5a1c"/>
<polygon points="525.3,193.8 528.8,190.3 532.3,193.8 528.8,197.3" fill="#0f5a1c"/>
<polygon points="528.4,194.3 531.9,190.8 535.4,194.3 531.9,197.8" fill="#0f5a1c"/>
<polygon points="531.5,194.7 535.0,191.2 538.5,194.7 535.0,198.2" fill="#0f5a1c"/>
<polygon points="534.6,195.1 538.1,191.6 541.6,195.1 538.1,198.6" fill="#0f5a1c"/>
<polygon points="537.8,195.5 541.3,192.0 544.8,195.5 541.3,199.0" fill="#0f5a1c"/>
<polygon points="540.9,195.9 544.4,192.4 547.9,195.9 544.4,199.4" fill="#0f5a1c"/>
<polygon points="544.0,196.3 547.5,192.8 551.0,196.3 547.5,199.8" fill="#0f5a1c"/>
<polygon points="547.1,196.7 550.6,193.2 554.1,196.7 550.6,200.2" fill="#0f5a1c"/>
<polygon points="550.3,197.1 553.8,193.6 557.3,197.1 553.8,200.6" fill="#0f5a1c"/>
<polygon points="553.4,197.3 556.9,193.8 560.4,197.3 556.9,200.8" fill="#0f5a1c"/>
<polygon points="556.5,197.6 560.0,194.1 563.5,197.6 560.0,201.1" fill="#0f5a1c"/>
<polygon points="559.6,197.8 563.1,194.3 566.6,197.8 563.1,201.3" fill="#0f5a1c"/>
<polygon points="562.7,198.1 566.2,194.6 569.7,198.1 566.2,201.6" fill="#0f5a1c"/>
<polygon points="565.9,198.5 569.4,195.0 572.9,198.5 569.4,202.0" fill="#0f5a1c"/>
<polygon points="569.0,198.8 572.5,195.3 576.0,198.8 572.5,202.3" fill="#0f5a1c"/>
<polygon points="572.1,199.1 575.6,195.6 579.1,199.1 575.6,202.6" fill="#0f5a1c"/>
<polygon points="575.2,199.3 578.7,195.8 582.2,199.3 578.7,202.8" fill="#0f5a1c"/>
<polygon points="578.4,199.6 581.9,196.1 585.4,199.6 581.9,203.1" fill="#0f5a1c"/>
<polygon points="581.5,199.9 585.0,196.4 588.5,199.9 585.0,203.4" fill="#0f5a1c"/>
<polygon points="584.6,200.1 588.1,196.6 591.6,200.1 588.1,203.6" fill="#0f5a1c"/>
<polygon points="587.7,200.3 591.2,196.8 594.7,200.3 591.2,203.8" fill="#0f5a1c"/>
<polygon points="590.8,200.4 594.3,196.9 597.8,200.4 594.3,203.9" fill="#0f5a1c"/>
<polygon points="594.0,200.5 597.5,197.0 601.0,200.5 597.5,204.0" fill="#0f5a1c"/>
<polygon points="597.1,200.6 600.6,197.1 604.1,200.6 600.6,204.1" fill="#0f5a1c"/>
<polygon points="600.2,200.8 603.7,197.3 607.2,200.8 603.7,204.3" fill="#0f5a1c"/>
<polygon points="603.3,200.9 606.8,197.4 610.3,200.9 606.8,204.4" fill="#0f5a1c"/>
<polygon points="606.5,201.0 610.0,197.5 613.5,201.0 610.0,204.5" fill="#0f5a1c"/>
<polygon points="609.6,201.1 613.1,197.6 616.6,201.1 613.1,204.6" fill="#0f5a1c"/>
<polygon points="612.7,201.3 616.2,197.8 619.7,201.3 616.2,204.8" fill="#0f5a1c"/>
<polygon points="615.8,201.4 619.3,197.9 622.8,201.4 619.3,204.9" fill="#0f5a1c"/>
<polygon points="618.9,201.5 622.4,198.0 625.9,201.5 622.4,205.0" fill="#0f5a1c"/>
<polygon points="622.1,201.6 625.6,198.1 629.1,201.6 625.6,205.1" fill="#0f5a1c"/>
<polygon points="625.2,201.8 628.7,198.3 632.2,201.8 628.7,205.3" fill="#0f5a1c"/>
<polygon points="628.3,201.9 631.8,198.4 635.3,201.9 631.8,205.4" fill="#0f5a1c"/>
<polygon points="631.4,202.0 634.9,198.5 638.4,202.0 634.9,205.5" fill="#0f5a1c"/>
<polygon points="634.5,202.1 638.0,198.6 641.5,202.1 638.0,205.6" fill="#0f5a1c"/>
<polygon points="637.7,202.3 641.2,198.8 644.7,202.3 641.2,205.8" fill="#0f5a1c"/>
<polygon points="640.8,202.4 644.3,198.9 647.8,202.4 644.3,205.9" fill="#0f5a1c"/>
<polygon points="643.9,202.5 647.4,199.0 650.9,202.5 647.4,206.0" fill="#0f5a1c"/>
<polygon points="647.0,202.6 650.5,199.1 654.0,202.6 650.5,206.1" fill="#0f5a1c"/>
<polygon points="650.2,202.8 653.7,199.3 657.2,202.8 653.7,206.3" fill="#0f5a1c"/>
<polygon points="653.3,202.9 656.8,199.4 660.3,202.9 656.8,206.4" fill="#0f5a1c"/>
<polygon points="656.4,203.0 659.9,199.5 663.4,203.0 659.9,206.5" fill="#0f5a1c"/>
<polygon points="659.5,203.1 663.0,199.6 666.5,203.1 663.0,206.6" fill="#0f5a1c"/>
<polygon points="662.6,203.3 666.1,199.8 669.6,203.3 666.1,206.8" fill="#0f5a1c"/>
<polygon points="665.8,203.4 669.3,199.9 672.8,203.4 669.3,206.9" fill="#0f5a1c"/>
<polygon points="668.9,203.5 672.4,200.0 675.9,203.5 672.4,207.0" fill="#0f5a1c"/>
<polygon points="672.0,203.6 675.5,200.1 679.0,203.6 675.5,207.1" fill="#0f5a1c"/>
<polygon points="675.1,203.8 678.6,200.3 682.1,203.8 678.6,207.3" fill="#0f5a1c"/>
<polygon points="678.3,203.9 681.8,200.4 685.3,203.9 681.8,207.4" fill="#0f5a1c"/>
<polygon points="681.4,204.0 684.9,200.5 688.4,204.0 684.9,207.5" fill="#0f5a1c"/>
<polygon points="684.5,204.1 688.0,200.6 691.5,204.1 688.0,207.6" fill="#0f5a1c"/>
<polygon points="687.6,204.3 691.1,200.8 694.6,204.3 691.1,207.8" fill="#0f5a1c"/>
<polygon points="690.7,204.4 694.2,200.9 697.7,204.4 694.2,207.9" fill="#0f5a1c"/>
<polygon points="693.9,204.5 697.4,201.0 700.9,204.5 697.4,208.0" fill="#0f5a1c"/>
<polygon points="697.0,204.6 700.5,201.1 704.0,204.6 700.5,208.1" fill="#0f5a1c"/>
<polygon points="700.1,204.7 703.6,201.2 707.1,204.7 703.6,208.2" fill="#0f5a1c"/>
<polygon points="703.2,204.8 706.7,201.3 710.2,204.8 706.7,208.3" fill="#0f5a1c"/>
<polygon points="706.4,204.8 709.9,201.3 713.4,204.8 709.9,208.3" fill="#0f5a1c"/>
<polygon points="709.5,204.9 713.0,201.4 716.5,204.9 713.0,208.4" fill="#0f5a1c"/>
<polygon points="712.6,205.0 716.1,201.5 719.6,205.0 716.1,208.5" fill="#0f5a1c"/>
<circle cx="407.0" cy="59.1" r="3.2" fill="#e00c0c"/>
<circle cx="410.1" cy="51.0" r="3.2" fill="#e00c0c"/>
<circle cx="413.3" cy="44.9" r="3.2" fill="#e00c0c"/>
<circle cx="416.4" cy="39.1" r="3.2" fill="#e00c0c"/>
<circle cx="419.5" cy="32.8" r="3.2" fill="#e00c0c"/>
<circle cx="422.6" cy="28.7" r="3.2" fill="#e00c0c"/>
<circle cx="425.8" cy="26.1" r="3.2" fill="#e00c0c"/>
<circle cx="428.9" cy="24.5" r="3.2" fill="#e00c0c"/>
<circle cx="432.0" cy="23.6" r="3.2" fill="#e00c0c"/>
<circle cx="435.1" cy="25.1" r="3.2" fill="#e00c0c"/>
<circle cx="438.2" cy="27.1" r="3.2" fill="#e00c0c"/>
<circle cx="441.4" cy="28.9" r="3.2" fill="#e00c0c"/>
<circle cx="444.5" cy="32.7" r="3.2" fill="#e00c0c"/>
<circle cx="447.6" cy="36.8" r="3.2" fill="#e00c0c"/>
<circle cx="450.7" cy="40.2" r="3.2" fill="#e00c0c"/>
<circle cx="453.9" cy="43.6" r="3.2" fill="#e00c0c"/>
<circle cx="457.0" cy="48.0" r="3.2" fill="#e00c0c"/>
<circle cx="460.1" cy="53.3" r="3.2" fill="#e00c0c"/>
<circle cx="463.2" cy="57.8" r="3.2" fill="#e00c0c"/>
<circle cx="466.3" cy="62.2" r="3.2" fill="#e00c0c"/>
<circle cx="469.5" cy="66.8" r="3.2" fill="#e00c0c"/>
<circle cx="472.6" cy="71.7" r="3.2" fill="#e00c0c"/>
<circle cx="475.7" cy="75.7" r="3.2" fill="#e00c0c"/>
<circle cx="478.8" cy="79.6" r="3.2" fill="#e00c0c"/>
<circle cx="481.9" cy="82.6" r="3.2" fill="#e00c0c"/>
<circle cx="485.1" cy="85.9" r="3.2" fill="#e00c0c"/>
<circle cx="488.2" cy="90.0" r="3.2" fill="#e00c0c"/>
<circle cx="491.3" cy="93.5" r="3.2" fill="#e00c0c"/>
<circle cx="494.4" cy="95.9" r="3.2" fill="#e00c0c"/>
<circle cx="497.6" cy="97.6" r="3.2" fill="#e00c0c"/>
<circle cx="500.7" cy="99.7" r="3.2" fill="#e00c0c"/>
<circle cx="503.8" cy="101.9" r="3.2" fill="#e00c0c"/>
<circle cx="506.9" cy="103.9" r="3.2" fill="#e00c0c"/>
<circle cx="510.0" cy="105.7" r="3.2" fill="#e00c0c"/>
<circle cx="513.2" cy="107.2" r="3.2" fill="#e00c0c"/>
<circle cx="516.3" cy="108.7" r="3.2" fill="#e00c0c"/>
<circle cx="519.4" cy="110.3" r="3.2" fill="#e00c0c"/>
<circle cx="522.5" cy="111.9" r="3.2" fill="#e00c0c"/>
<circle cx="525.7" cy="113.4" r="3.2" fill="#e00c0c"/>
<circle cx="528.8" cy="114.9" r="3.2" fill="#e00c0c"/>
<circle cx="531.9" cy="116.4" r="3.2" fill="#e00c0c"/>
<circle cx="535.0" cy="117.7" r="3.2" fill="#e00c0c"/>
<circle cx="538.1" cy="118.9" r="3.2" fill="#e00c0c"/>
<circle cx="541.3" cy="120.2" r="3.2" fill="#e00c0c"/>
<circle cx="544.4" cy="121.5" r="3.2" fill="#e00c0c"/>
<circle cx="547.5" cy="122.5" r="3.2" fill="#e00c0c"/>
<circle cx="550.6" cy="123.5" r="3.2" fill="#e00c0c"/>
<circle cx="553.8" cy="124.5" r="3.2" fill="#e00c0c"/>
<circle cx="556.9" cy="125.4" r="3.2" fill="#e00c0c"/>
<circle cx="560.0" cy="126.3" r="3.2" fill="#e00c0c"/>
<circle cx="563.1" cy="127.1" r="3.2" fill="#e00c0c"/>
<circle cx="566.2" cy="127.9" r="3.2" fill="#e00c0c"/>
<circle cx="569.4" cy="128.7" r="3.2" fill="#e00c0c"/>
<circle cx="572.5" cy="129.5" r="3.2" fill="#e00c0c"/>
<circle cx="575.6" cy="130.1" r="3.2" fill="#e00c0c"/>
<circle cx="578.7" cy="130.5" r="3.2" fill="#e00c0c"/>
<circle cx="581.9" cy="131.0" r="3.2" fill="#e00c0c"/>
<circle cx="585.0" cy="131.5" r="3.2" fill="#e00c0c"/>
<circle cx="588.1" cy="132.3" r="3.2" fill="#e00c0c"/>
<circle cx="591.2" cy="133.1" r="3.2" fill="#e00c0c"/>
<circle cx="594.3" cy="133.8" r="3.2" fill="#e00c0c"/>
<circle cx="597.5" cy="134.3" r="3.2" fill="#e00c0c"/>
<circle cx="600.6" cy="134.8" r="3.2" fill="#e00c0c"/>
<circle cx="603.7" cy="135.4" r="3.2" fill="#e00c0c"/>
<circle cx="606.8" cy="136.1" r="3.2" fill="#e00c0c"/>
<circle cx="610.0" cy="136.8" r="3.2" fill="#e00c0c"/>
<circle cx="613.1" cy="137.6" r="3.2" fill="#e00c0c"/>
<circle cx="616.2" cy="138.1" r="3.2" fill="#e00c0c"/>
<circle cx="619.3" cy="138.6" r="3.2" fill="#e00c0c"/>
<circle cx="622.4" cy="139.1" r="3.2" fill="#e00c0c"/>
<circle cx="625.6" cy="139.5" r="3.2" fill="#e00c0c"/>
<circle cx="628.7" cy="139.9" r="3.2" fill="#e00c0c"/>
<circle cx="631.8" cy="140.2" r="3.2" fill="#e00c0c"/>
<circle cx="634.9" cy="140.6" r="3.2" fill="#e00c0c"/>
<circle cx="638.0" cy="141.2" r="3.2" fill="#e00c0c"/>
<circle cx="641.2" cy="141.8" r="3.2" fill="#e00c0c"/>
<circle cx="644.3" cy="142.4" r="3.2" fill="#e00c0c"/>
<circle cx="647.4" cy="142.9" r="3.2" fill="#e00c0c"/>
<circle cx="650.5" cy="143.2" r="3.2" fill="#e00c0c"/>
<circle cx="653.7" cy="143.5" r="3.2" fill="#e00c0c"/>
<circle cx="656.8" cy="143.8" r="3.2" fill="#e00c0c"/>
<circle cx="659.9" cy="143.9" r="3.2" fill="#e00c0c"/>
<circle cx="663.0" cy="144.1" r="3.2" fill="#e00c0c"/>
<circle cx="666.1" cy="144.3" r="3.2" fill="#e00c0c"/>
<circle cx="669.3" cy="144.9" r="3.2" fill="#e00c0c"/>
<circle cx="672.4" cy="145.5" r="3.2" fill="#e00c0c"/>
<circle cx="675.5" cy="146.1" r="3.2" fill="#e00c0c"/>
<circle cx="678.6" cy="146.3" r="3.2" fill="#e00c0c"/>
<circle cx="681.8" cy="146.5" r="3.2" fill="#e00c0c"/>
<circle cx="684.9" cy="146.7" r="3.2" fill="#e00c0c"/>
<circle cx="688.0" cy="147.0" r="3.2" fill="#e00c0c"/>
<circle cx="691.1" cy="147.3" r="3.2" fill="#e00c0c"/>
<circle cx="694.2" cy="147.6" r="3.2" fill="#e00c0c"/>
<circle cx="697.4" cy="148.0" r="3.2" fill="#e00c0c"/>
<circle cx="700.5" cy="148.5" r="3.2" fill="#e00c0c"/>
<circle cx="703.6" cy="149.0" r="3.2" fill="#e00c0c"/>
<circle cx="706.7" cy="149.4" r="3.2" fill="#e00c0c"/>
<circle cx="709.9" cy="149.6" r="3.2" fill="#e00c0c"/>
<circle cx="713.0" cy="149.9" r="3.2" fill="#e00c0c"/>
<circle cx="716.1" cy="150.2" r="3.2" fill="#e00c0c"/>
<clipPath id="pc"><rect x="405.8" y="230" width="330" height="40"/></clipPath><g clip-path="url(#pc)">
<polygon points="404.8,241.6 404.8,247.6 411.0,247.6" fill="#f0107e"/>
<polygon points="407.9,241.7 407.9,247.7 414.1,247.7" fill="#f0107e"/>
<polygon points="411.1,241.9 411.1,247.9 417.3,247.9" fill="#f0107e"/>
<polygon points="414.2,242.0 414.2,248.0 420.4,248.0" fill="#f0107e"/>
<polygon points="417.3,242.2 417.3,248.2 423.5,248.2" fill="#f0107e"/>
<polygon points="420.4,242.3 420.4,248.3 426.6,248.3" fill="#f0107e"/>
<polygon points="423.6,242.5 423.6,248.5 429.8,248.5" fill="#f0107e"/>
<polygon points="426.7,242.7 426.7,248.7 432.9,248.7" fill="#f0107e"/>
<polygon points="429.8,242.8 429.8,248.8 436.0,248.8" fill="#f0107e"/>
<polygon points="432.9,243.0 432.9,249.0 439.1,249.0" fill="#f0107e"/>
<polygon points="436.0,243.1 436.0,249.1 442.2,249.1" fill="#f0107e"/>
<polygon points="439.2,243.2 439.2,249.2 445.4,249.2" fill="#f0107e"/>
<polygon points="442.3,243.4 442.3,249.4 448.5,249.4" fill="#f0107e"/>
<polygon points="445.4,243.5 445.4,249.5 451.6,249.5" fill="#f0107e"/>
<polygon points="448.5,243.6 448.5,249.6 454.7,249.6" fill="#f0107e"/>
<polygon points="451.7,243.7 451.7,249.7 457.9,249.7" fill="#f0107e"/>
<polygon points="454.8,243.8 454.8,249.8 461.0,249.8" fill="#f0107e"/>
<polygon points="457.9,243.9 457.9,249.9 464.1,249.9" fill="#f0107e"/>
<polygon points="461.0,244.0 461.0,250.0 467.2,250.0" fill="#f0107e"/>
<polygon points="464.1,244.1 464.1,250.1 470.3,250.1" fill="#f0107e"/>
<polygon points="467.3,244.2 467.3,250.2 473.5,250.2" fill="#f0107e"/>
<polygon points="470.4,244.3 470.4,250.3 476.6,250.3" fill="#f0107e"/>
<polygon points="473.5,244.4 473.5,250.4 479.7,250.4" fill="#f0107e"/>
<polygon points="476.6,244.6 476.6,250.6 482.8,250.6" fill="#f0107e"/>
<polygon points="479.7,244.6 479.7,250.6 485.9,250.6" fill="#f0107e"/>
<polygon points="482.9,244.7 482.9,250.7 489.1,250.7" fill="#f0107e"/>
<polygon points="486.0,244.8 486.0,250.8 492.2,250.8" fill="#f0107e"/>
<polygon points="489.1,244.8 489.1,250.8 495.3,250.8" fill="#f0107e"/>
<polygon points="492.2,244.9 492.2,250.9 498.4,250.9" fill="#f0107e"/>
<polygon points="495.4,245.0 495.4,251.0 501.6,251.0" fill="#f0107e"/>
<polygon points="498.5,245.0 498.5,251.0 504.7,251.0" fill="#f0107e"/>
<polygon points="501.6,245.1 501.6,251.1 507.8,251.1" fill="#f0107e"/>
<polygon points="504.7,245.2 504.7,251.2 510.9,251.2" fill="#f0107e"/>
<polygon points="507.8,245.2 507.8,251.2 514.0,251.2" fill="#f0107e"/>
<polygon points="511.0,245.3 511.0,251.3 517.2,251.3" fill="#f0107e"/>
<polygon points="514.1,245.3 514.1,251.3 520.3,251.3" fill="#f0107e"/>
<polygon points="517.2,245.4 517.2,251.4 523.4,251.4" fill="#f0107e"/>
<polygon points="520.3,245.4 520.3,251.4 526.5,251.4" fill="#f0107e"/>
<polygon points="523.5,245.4 523.5,251.4 529.7,251.4" fill="#f0107e"/>
<polygon points="526.6,245.5 526.6,251.5 532.8,251.5" fill="#f0107e"/>
<polygon points="529.7,245.5 529.7,251.5 535.9,251.5" fill="#f0107e"/>
<polygon points="532.8,245.5 532.8,251.5 539.0,251.5" fill="#f0107e"/>
<polygon points="535.9,245.6 535.9,251.6 542.1,251.6" fill="#f0107e"/>
<polygon points="539.1,245.6 539.1,251.6 545.3,251.6" fill="#f0107e"/>
<polygon points="542.2,245.6 542.2,251.6 548.4,251.6" fill="#f0107e"/>
<polygon points="545.3,245.7 545.3,251.7 551.5,251.7" fill="#f0107e"/>
<polygon points="548.4,245.7 548.4,251.7 554.6,251.7" fill="#f0107e"/>
<polygon points="551.6,245.7 551.6,251.7 557.8,251.7" fill="#f0107e"/>
<polygon points="554.7,245.8 554.7,251.8 560.9,251.8" fill="#f0107e"/>
<polygon points="557.8,245.8 557.8,251.8 564.0,251.8" fill="#f0107e"/>
<polygon points="560.9,245.8 560.9,251.8 567.1,251.8" fill="#f0107e"/>
<polygon points="564.0,245.9 564.0,251.9 570.2,251.9" fill="#f0107e"/>
<polygon points="567.2,245.9 567.2,251.9 573.4,251.9" fill="#f0107e"/>
<polygon points="570.3,245.9 570.3,251.9 576.5,251.9" fill="#f0107e"/>
<polygon points="573.4,245.9 573.4,251.9 579.6,251.9" fill="#f0107e"/>
<polygon points="576.5,246.0 576.5,252.0 582.7,252.0" fill="#f0107e"/>
<polygon points="579.7,246.0 579.7,252.0 585.9,252.0" fill="#f0107e"/>
<polygon points="582.8,246.0 582.8,252.0 589.0,252.0" fill="#f0107e"/>
<polygon points="585.9,246.1 585.9,252.1 592.1,252.1" fill="#f0107e"/>
<polygon points="589.0,246.1 589.0,252.1 595.2,252.1" fill="#f0107e"/>
<polygon points="592.1,246.1 592.1,252.1 598.3,252.1" fill="#f0107e"/>
<polygon points="595.3,246.2 595.3,252.2 601.5,252.2" fill="#f0107e"/>
<polygon points="598.4,246.2 598.4,252.2 604.6,252.2" fill="#f0107e"/>
<polygon points="601.5,246.2 601.5,252.2 607.7,252.2" fill="#f0107e"/>
<polygon points="604.6,246.2 604.6,252.2 610.8,252.2" fill="#f0107e"/>
<polygon points="607.8,246.3 607.8,252.3 614.0,252.3" fill="#f0107e"/>
<polygon points="610.9,246.3 610.9,252.3 617.1,252.3" fill="#f0107e"/>
<polygon points="614.0,246.3 614.0,252.3 620.2,252.3" fill="#f0107e"/>
<polygon points="617.1,246.4 617.1,252.4 623.3,252.4" fill="#f0107e"/>
<polygon points="620.2,246.4 620.2,252.4 626.4,252.4" fill="#f0107e"/>
<polygon points="623.4,246.4 623.4,252.4 629.6,252.4" fill="#f0107e"/>
<polygon points="626.5,246.4 626.5,252.4 632.7,252.4" fill="#f0107e"/>
<polygon points="629.6,246.4 629.6,252.4 635.8,252.4" fill="#f0107e"/>
<polygon points="632.7,246.4 632.7,252.4 638.9,252.4" fill="#f0107e"/>
<polygon points="635.8,246.5 635.8,252.5 642.0,252.5" fill="#f0107e"/>
<polygon points="639.0,246.5 639.0,252.5 645.2,252.5" fill="#f0107e"/>
<polygon points="642.1,246.5 642.1,252.5 648.3,252.5" fill="#f0107e"/>
<polygon points="645.2,246.5 645.2,252.5 651.4,252.5" fill="#f0107e"/>
<polygon points="648.3,246.5 648.3,252.5 654.5,252.5" fill="#f0107e"/>
<polygon points="651.5,246.5 651.5,252.5 657.7,252.5" fill="#f0107e"/>
<polygon points="654.6,246.5 654.6,252.5 660.8,252.5" fill="#f0107e"/>
<polygon points="657.7,246.6 657.7,252.6 663.9,252.6" fill="#f0107e"/>
<polygon points="660.8,246.6 660.8,252.6 667.0,252.6" fill="#f0107e"/>
<polygon points="663.9,246.6 663.9,252.6 670.1,252.6" fill="#f0107e"/>
<polygon points="667.1,246.6 667.1,252.6 673.3,252.6" fill="#f0107e"/>
<polygon points="670.2,246.6 670.2,252.6 676.4,252.6" fill="#f0107e"/>
<polygon points="673.3,246.6 673.3,252.6 679.5,252.6" fill="#f0107e"/>
<polygon points="676.4,246.6 676.4,252.6 682.6,252.6" fill="#f0107e"/>
<polygon points="679.6,246.7 679.6,252.7 685.8,252.7" fill="#f0107e"/>
<polygon points="682.7,246.7 682.7,252.7 688.9,252.7" fill="#f0107e"/>
<polygon points="685.8,246.7 685.8,252.7 692.0,252.7" fill="#f0107e"/>
<polygon points="688.9,246.7 688.9,252.7 695.1,252.7" fill="#f0107e"/>
<polygon points="692.0,246.7 692.0,252.7 698.2,252.7" fill="#f0107e"/>
<polygon points="695.2,246.7 695.2,252.7 701.4,252.7" fill="#f0107e"/>
<polygon points="698.3,246.7 698.3,252.7 704.5,252.7" fill="#f0107e"/>
<polygon points="701.4,246.7 701.4,252.7 707.6,252.7" fill="#f0107e"/>
<polygon points="704.5,246.8 704.5,252.8 710.7,252.8" fill="#f0107e"/>
<polygon points="707.7,246.8 707.7,252.8 713.9,252.8" fill="#f0107e"/>
<polygon points="710.8,246.8 710.8,252.8 717.0,252.8" fill="#f0107e"/>
<polygon points="713.9,246.8 713.9,252.8 720.1,252.8" fill="#f0107e"/>
</g>
<rect x="403.9" y="3.3" width="312.2" height="264.2" fill="none" stroke="#6a6af0" stroke-width="1.15"/>
<line x1="419.51" y1="3.30" x2="419.51" y2="5.60" stroke="#6060ee" stroke-width="1.15" />
<line x1="419.51" y1="267.50" x2="419.51" y2="265.50" stroke="#6060ee" stroke-width="1.15" />
<line x1="435.12" y1="3.30" x2="435.12" y2="5.60" stroke="#6060ee" stroke-width="1.15" />
<line x1="435.12" y1="267.50" x2="435.12" y2="265.50" stroke="#6060ee" stroke-width="1.15" />
<line x1="450.73" y1="3.30" x2="450.73" y2="5.60" stroke="#6060ee" stroke-width="1.15" />
<line x1="450.73" y1="267.50" x2="450.73" y2="265.50" stroke="#6060ee" stroke-width="1.15" />
<line x1="466.34" y1="3.30" x2="466.34" y2="5.60" stroke="#6060ee" stroke-width="1.15" />
<line x1="466.34" y1="267.50" x2="466.34" y2="264.00" stroke="#6060ee" stroke-width="1.15" />
<line x1="481.95" y1="3.30" x2="481.95" y2="5.60" stroke="#6060ee" stroke-width="1.15" />
<line x1="481.95" y1="267.50" x2="481.95" y2="265.50" stroke="#6060ee" stroke-width="1.15" />
<line x1="497.56" y1="3.30" x2="497.56" y2="5.60" stroke="#6060ee" stroke-width="1.15" />
<line x1="497.56" y1="267.50" x2="497.56" y2="265.50" stroke="#6060ee" stroke-width="1.15" />
<line x1="513.17" y1="3.30" x2="513.17" y2="5.60" stroke="#6060ee" stroke-width="1.15" />
<line x1="513.17" y1="267.50" x2="513.17" y2="265.50" stroke="#6060ee" stroke-width="1.15" />
<line x1="528.78" y1="3.30" x2="528.78" y2="5.60" stroke="#6060ee" stroke-width="1.15" />
<line x1="528.78" y1="267.50" x2="528.78" y2="264.00" stroke="#6060ee" stroke-width="1.15" />
<line x1="544.39" y1="3.30" x2="544.39" y2="5.60" stroke="#6060ee" stroke-width="1.15" />
<line x1="544.39" y1="267.50" x2="544.39" y2="265.50" stroke="#6060ee" stroke-width="1.15" />
<line x1="560.00" y1="3.30" x2="560.00" y2="5.60" stroke="#6060ee" stroke-width="1.15" />
<line x1="560.00" y1="267.50" x2="560.00" y2="265.50" stroke="#6060ee" stroke-width="1.15" />
<line x1="575.61" y1="3.30" x2="575.61" y2="5.60" stroke="#6060ee" stroke-width="1.15" />
<line x1="575.61" y1="267.50" x2="575.61" y2="265.50" stroke="#6060ee" stroke-width="1.15" />
<line x1="591.22" y1="3.30" x2="591.22" y2="5.60" stroke="#6060ee" stroke-width="1.15" />
<line x1="591.22" y1="267.50" x2="591.22" y2="264.00" stroke="#6060ee" stroke-width="1.15" />
<line x1="606.83" y1="3.30" x2="606.83" y2="5.60" stroke="#6060ee" stroke-width="1.15" />
<line x1="606.83" y1="267.50" x2="606.83" y2="265.50" stroke="#6060ee" stroke-width="1.15" />
<line x1="622.44" y1="3.30" x2="622.44" y2="5.60" stroke="#6060ee" stroke-width="1.15" />
<line x1="622.44" y1="267.50" x2="622.44" y2="265.50" stroke="#6060ee" stroke-width="1.15" />
<line x1="638.05" y1="3.30" x2="638.05" y2="5.60" stroke="#6060ee" stroke-width="1.15" />
<line x1="638.05" y1="267.50" x2="638.05" y2="265.50" stroke="#6060ee" stroke-width="1.15" />
<line x1="653.66" y1="3.30" x2="653.66" y2="5.60" stroke="#6060ee" stroke-width="1.15" />
<line x1="653.66" y1="267.50" x2="653.66" y2="264.00" stroke="#6060ee" stroke-width="1.15" />
<line x1="669.27" y1="3.30" x2="669.27" y2="5.60" stroke="#6060ee" stroke-width="1.15" />
<line x1="669.27" y1="267.50" x2="669.27" y2="265.50" stroke="#6060ee" stroke-width="1.15" />
<line x1="684.88" y1="3.30" x2="684.88" y2="5.60" stroke="#6060ee" stroke-width="1.15" />
<line x1="684.88" y1="267.50" x2="684.88" y2="265.50" stroke="#6060ee" stroke-width="1.15" />
<line x1="700.49" y1="3.30" x2="700.49" y2="5.60" stroke="#6060ee" stroke-width="1.15" />
<line x1="700.49" y1="267.50" x2="700.49" y2="265.50" stroke="#6060ee" stroke-width="1.15" />
<line x1="403.90" y1="260.70" x2="405.90" y2="260.70" stroke="#6060ee" stroke-width="1.15" />
<line x1="716.10" y1="260.70" x2="714.10" y2="260.70" stroke="#6060ee" stroke-width="1.15" />
<line x1="403.90" y1="253.55" x2="407.50" y2="253.55" stroke="#6060ee" stroke-width="1.15" />
<line x1="716.10" y1="253.55" x2="712.50" y2="253.55" stroke="#6060ee" stroke-width="1.15" />
<line x1="403.90" y1="246.40" x2="405.90" y2="246.40" stroke="#6060ee" stroke-width="1.15" />
<line x1="716.10" y1="246.40" x2="714.10" y2="246.40" stroke="#6060ee" stroke-width="1.15" />
<line x1="403.90" y1="239.25" x2="405.90" y2="239.25" stroke="#6060ee" stroke-width="1.15" />
<line x1="716.10" y1="239.25" x2="714.10" y2="239.25" stroke="#6060ee" stroke-width="1.15" />
<line x1="403.90" y1="232.10" x2="405.90" y2="232.10" stroke="#6060ee" stroke-width="1.15" />
<line x1="716.10" y1="232.10" x2="714.10" y2="232.10" stroke="#6060ee" stroke-width="1.15" />
<line x1="403.90" y1="224.95" x2="405.90" y2="224.95" stroke="#6060ee" stroke-width="1.15" />
<line x1="716.10" y1="224.95" x2="714.10" y2="224.95" stroke="#6060ee" stroke-width="1.15" />
<line x1="403.90" y1="217.80" x2="407.50" y2="217.80" stroke="#6060ee" stroke-width="1.15" />
<line x1="716.10" y1="217.80" x2="712.50" y2="217.80" stroke="#6060ee" stroke-width="1.15" />
<line x1="403.90" y1="210.65" x2="405.90" y2="210.65" stroke="#6060ee" stroke-width="1.15" />
<line x1="716.10" y1="210.65" x2="714.10" y2="210.65" stroke="#6060ee" stroke-width="1.15" />
<line x1="403.90" y1="203.50" x2="405.90" y2="203.50" stroke="#6060ee" stroke-width="1.15" />
<line x1="716.10" y1="203.50" x2="714.10" y2="203.50" stroke="#6060ee" stroke-width="1.15" />
<line x1="403.90" y1="196.35" x2="405.90" y2="196.35" stroke="#6060ee" stroke-width="1.15" />
<line x1="716.10" y1="196.35" x2="714.10" y2="196.35" stroke="#6060ee" stroke-width="1.15" />
<line x1="403.90" y1="189.20" x2="405.90" y2="189.20" stroke="#6060ee" stroke-width="1.15" />
<line x1="716.10" y1="189.20" x2="714.10" y2="189.20" stroke="#6060ee" stroke-width="1.15" />
<line x1="403.90" y1="182.05" x2="407.50" y2="182.05" stroke="#6060ee" stroke-width="1.15" />
<line x1="716.10" y1="182.05" x2="712.50" y2="182.05" stroke="#6060ee" stroke-width="1.15" />
<line x1="403.90" y1="174.90" x2="405.90" y2="174.90" stroke="#6060ee" stroke-width="1.15" />
<line x1="716.10" y1="174.90" x2="714.10" y2="174.90" stroke="#6060ee" stroke-width="1.15" />
<line x1="403.90" y1="167.75" x2="405.90" y2="167.75" stroke="#6060ee" stroke-width="1.15" />
<line x1="716.10" y1="167.75" x2="714.10" y2="167.75" stroke="#6060ee" stroke-width="1.15" />
<line x1="403.90" y1="160.60" x2="405.90" y2="160.60" stroke="#6060ee" stroke-width="1.15" />
<line x1="716.10" y1="160.60" x2="714.10" y2="160.60" stroke="#6060ee" stroke-width="1.15" />
<line x1="403.90" y1="153.45" x2="405.90" y2="153.45" stroke="#6060ee" stroke-width="1.15" />
<line x1="716.10" y1="153.45" x2="714.10" y2="153.45" stroke="#6060ee" stroke-width="1.15" />
<line x1="403.90" y1="146.30" x2="407.50" y2="146.30" stroke="#6060ee" stroke-width="1.15" />
<line x1="716.10" y1="146.30" x2="712.50" y2="146.30" stroke="#6060ee" stroke-width="1.15" />
<line x1="403.90" y1="139.15" x2="405.90" y2="139.15" stroke="#6060ee" stroke-width="1.15" />
<line x1="716.10" y1="139.15" x2="714.10" y2="139.15" stroke="#6060ee" stroke-width="1.15" />
<line x1="403.90" y1="132.00" x2="405.90" y2="132.00" stroke="#6060ee" stroke-width="1.15" />
<line x1="716.10" y1="132.00" x2="714.10" y2="132.00" stroke="#6060ee" stroke-width="1.15" />
<line x1="403.90" y1="124.85" x2="405.90" y2="124.85" stroke="#6060ee" stroke-width="1.15" />
<line x1="716.10" y1="124.85" x2="714.10" y2="124.85" stroke="#6060ee" stroke-width="1.15" />
<line x1="403.90" y1="117.70" x2="405.90" y2="117.70" stroke="#6060ee" stroke-width="1.15" />
<line x1="716.10" y1="117.70" x2="714.10" y2="117.70" stroke="#6060ee" stroke-width="1.15" />
<line x1="403.90" y1="110.55" x2="407.50" y2="110.55" stroke="#6060ee" stroke-width="1.15" />
<line x1="716.10" y1="110.55" x2="712.50" y2="110.55" stroke="#6060ee" stroke-width="1.15" />
<line x1="403.90" y1="103.40" x2="405.90" y2="103.40" stroke="#6060ee" stroke-width="1.15" />
<line x1="716.10" y1="103.40" x2="714.10" y2="103.40" stroke="#6060ee" stroke-width="1.15" />
<line x1="403.90" y1="96.25" x2="405.90" y2="96.25" stroke="#6060ee" stroke-width="1.15" />
<line x1="716.10" y1="96.25" x2="714.10" y2="96.25" stroke="#6060ee" stroke-width="1.15" />
<line x1="403.90" y1="89.10" x2="405.90" y2="89.10" stroke="#6060ee" stroke-width="1.15" />
<line x1="716.10" y1="89.10" x2="714.10" y2="89.10" stroke="#6060ee" stroke-width="1.15" />
<line x1="403.90" y1="81.95" x2="405.90" y2="81.95" stroke="#6060ee" stroke-width="1.15" />
<line x1="716.10" y1="81.95" x2="714.10" y2="81.95" stroke="#6060ee" stroke-width="1.15" />
<line x1="403.90" y1="74.80" x2="407.50" y2="74.80" stroke="#6060ee" stroke-width="1.15" />
<line x1="716.10" y1="74.80" x2="712.50" y2="74.80" stroke="#6060ee" stroke-width="1.15" />
<line x1="403.90" y1="67.65" x2="405.90" y2="67.65" stroke="#6060ee" stroke-width="1.15" />
<line x1="716.10" y1="67.65" x2="714.10" y2="67.65" stroke="#6060ee" stroke-width="1.15" />
<line x1="403.90" y1="60.50" x2="405.90" y2="60.50" stroke="#6060ee" stroke-width="1.15" />
<line x1="716.10" y1="60.50" x2="714.10" y2="60.50" stroke="#6060ee" stroke-width="1.15" />
<line x1="403.90" y1="53.35" x2="405.90" y2="53.35" stroke="#6060ee" stroke-width="1.15" />
<line x1="716.10" y1="53.35" x2="714.10" y2="53.35" stroke="#6060ee" stroke-width="1.15" />
<line x1="403.90" y1="46.20" x2="405.90" y2="46.20" stroke="#6060ee" stroke-width="1.15" />
<line x1="716.10" y1="46.20" x2="714.10" y2="46.20" stroke="#6060ee" stroke-width="1.15" />
<line x1="403.90" y1="39.05" x2="407.50" y2="39.05" stroke="#6060ee" stroke-width="1.15" />
<line x1="716.10" y1="39.05" x2="712.50" y2="39.05" stroke="#6060ee" stroke-width="1.15" />
<line x1="403.90" y1="31.90" x2="405.90" y2="31.90" stroke="#6060ee" stroke-width="1.15" />
<line x1="716.10" y1="31.90" x2="714.10" y2="31.90" stroke="#6060ee" stroke-width="1.15" />
<line x1="403.90" y1="24.75" x2="405.90" y2="24.75" stroke="#6060ee" stroke-width="1.15" />
<line x1="716.10" y1="24.75" x2="714.10" y2="24.75" stroke="#6060ee" stroke-width="1.15" />
<line x1="403.90" y1="17.60" x2="405.90" y2="17.60" stroke="#6060ee" stroke-width="1.15" />
<line x1="716.10" y1="17.60" x2="714.10" y2="17.60" stroke="#6060ee" stroke-width="1.15" />
<line x1="403.90" y1="10.45" x2="405.90" y2="10.45" stroke="#6060ee" stroke-width="1.15" />
<line x1="716.10" y1="10.45" x2="714.10" y2="10.45" stroke="#6060ee" stroke-width="1.15" />
<text transform="translate(403.3,282.7) scale(1.03,1)" font-size="11.7" font-weight="normal" fill="#1a1a1a" stroke="#1a1a1a" stroke-width="0.3" text-anchor="middle" >0</text>
<text transform="translate(466.7,282.7) scale(1.03,1)" font-size="11.7" font-weight="normal" fill="#1a1a1a" stroke="#1a1a1a" stroke-width="0.3" text-anchor="middle" >20</text>
<text transform="translate(528.2,282.7) scale(1.03,1)" font-size="11.7" font-weight="normal" fill="#1a1a1a" stroke="#1a1a1a" stroke-width="0.3" text-anchor="middle" >40</text>
<text transform="translate(589.8,282.7) scale(1.03,1)" font-size="11.7" font-weight="normal" fill="#1a1a1a" stroke="#1a1a1a" stroke-width="0.3" text-anchor="middle" >60</text>
<text transform="translate(653.1,282.7) scale(1.03,1)" font-size="11.7" font-weight="normal" fill="#1a1a1a" stroke="#1a1a1a" stroke-width="0.3" text-anchor="middle" >80</text>
<text transform="translate(715.5,282.7) scale(1.03,1)" font-size="11.7" font-weight="normal" fill="#1a1a1a" stroke="#1a1a1a" stroke-width="0.3" text-anchor="middle" >100</text>
<text transform="translate(397.9,222.6) scale(1.04,1)" font-size="11.7" font-weight="normal" fill="#1a1a1a" stroke="#1a1a1a" stroke-width="0.3" text-anchor="end" >5</text>
<text transform="translate(399.3,185.1) scale(1.04,1)" font-size="11.7" font-weight="normal" fill="#1a1a1a" stroke="#1a1a1a" stroke-width="0.3" text-anchor="end" >10</text>
<text transform="translate(399.3,147.8) scale(1.04,1)" font-size="11.7" font-weight="normal" fill="#1a1a1a" stroke="#1a1a1a" stroke-width="0.3" text-anchor="end" >15</text>
<text transform="translate(399.3,114.0) scale(1.04,1)" font-size="11.7" font-weight="normal" fill="#1a1a1a" stroke="#1a1a1a" stroke-width="0.3" text-anchor="end" >20</text>
<text transform="translate(399.3,77.8) scale(1.04,1)" font-size="11.7" font-weight="normal" fill="#1a1a1a" stroke="#1a1a1a" stroke-width="0.3" text-anchor="end" >25</text>
<text transform="translate(399.3,42.8) scale(1.04,1)" font-size="11.7" font-weight="normal" fill="#1a1a1a" stroke="#1a1a1a" stroke-width="0.3" text-anchor="end" >30</text>
<text transform="translate(399.3,10.7) scale(1.04,1)" font-size="11.7" font-weight="normal" fill="#1a1a1a" stroke="#1a1a1a" stroke-width="0.3" text-anchor="end" >35</text>
<text x="396.9" y="270.5" font-size="11.7" font-weight="normal" fill="#1a1a1a" stroke="#1a1a1a" stroke-width="0.3" text-anchor="end" >0</text>
<text x="572.6" y="299.8" font-size="13" font-weight="bold" fill="#111" stroke="#111" stroke-width="0.2" text-anchor="middle" >Cycle number</text>
<text x="603.6" y="27.7" font-size="14" font-weight="bold" fill="#111" stroke="#111" stroke-width="0.2" text-anchor="middle" textLength="18.6" lengthAdjust="spacingAndGlyphs">(b)</text>
<text transform="translate(375.6,130.4) rotate(-90)" font-size="13" font-weight="bold" fill="#111" stroke="#111" stroke-width="0.2" text-anchor="middle">C<tspan font-size="9.3" dy="2.4">sp</tspan><tspan dy="-2.4">(F/g)</tspan></text>
<polyline points="651.9,49.9 665.5,49.9" fill="none" stroke="#0f5a1c" stroke-width="0.9" stroke-opacity="0.8" stroke-linejoin="round"/>
<polygon points="653.8,49.9 657.3,46.4 660.8,49.9 657.3,53.4" fill="#0f5a1c"/>
<text x="668.8" y="53.9" font-size="10.4" font-weight="normal" fill="#1d6a22" stroke="#1d6a22" stroke-width="0.3" text-anchor="start" >S08</text>
<polyline points="647.4,64.3 666.5,64.3" fill="none" stroke="#e00c0c" stroke-width="0.9" stroke-opacity="0.8" stroke-linejoin="round"/>
<circle cx="656.6" cy="64.3" r="3.2" fill="#e00c0c"/>
<text x="668.6" y="68.2" font-size="10.4" font-weight="normal" fill="#e01818" stroke="#e01818" stroke-width="0.3" text-anchor="start" >S09</text>
<line x1="647.9" y1="79.7" x2="649.4" y2="79.7" stroke="#1414dc" stroke-width="1" stroke-opacity="0.75"/>
<line x1="651.9" y1="79.7" x2="654.2" y2="79.7" stroke="#1414dc" stroke-width="1" stroke-opacity="0.75"/>
<line x1="660.2" y1="79.7" x2="662.8" y2="79.7" stroke="#1414dc" stroke-width="1" stroke-opacity="0.75"/>
<line x1="665.2" y1="79.7" x2="666.7" y2="79.7" stroke="#1414dc" stroke-width="1" stroke-opacity="0.75"/>
<rect x="654.2" y="76.7" width="6.0" height="6.0" fill="#1414dc"/>
<text x="668.8" y="83.5" font-size="10.4" font-weight="normal" fill="#1a1ae0" stroke="#1a1ae0" stroke-width="0.3" text-anchor="start" >S10</text>
<polyline points="653.9,92.3 666.9,92.3" fill="none" stroke="#f0107e" stroke-width="0.9" stroke-opacity="0.8" stroke-linejoin="round"/>
<polygon points="656.8,90.6 656.8,96.4 664.2,96.4" fill="#f0107e"/>
<text x="670.0" y="96.7" font-size="10.4" font-weight="normal" fill="#f0107e" stroke="#f0107e" stroke-width="0.3" text-anchor="start" >S11</text>
</svg>
</body></html>
